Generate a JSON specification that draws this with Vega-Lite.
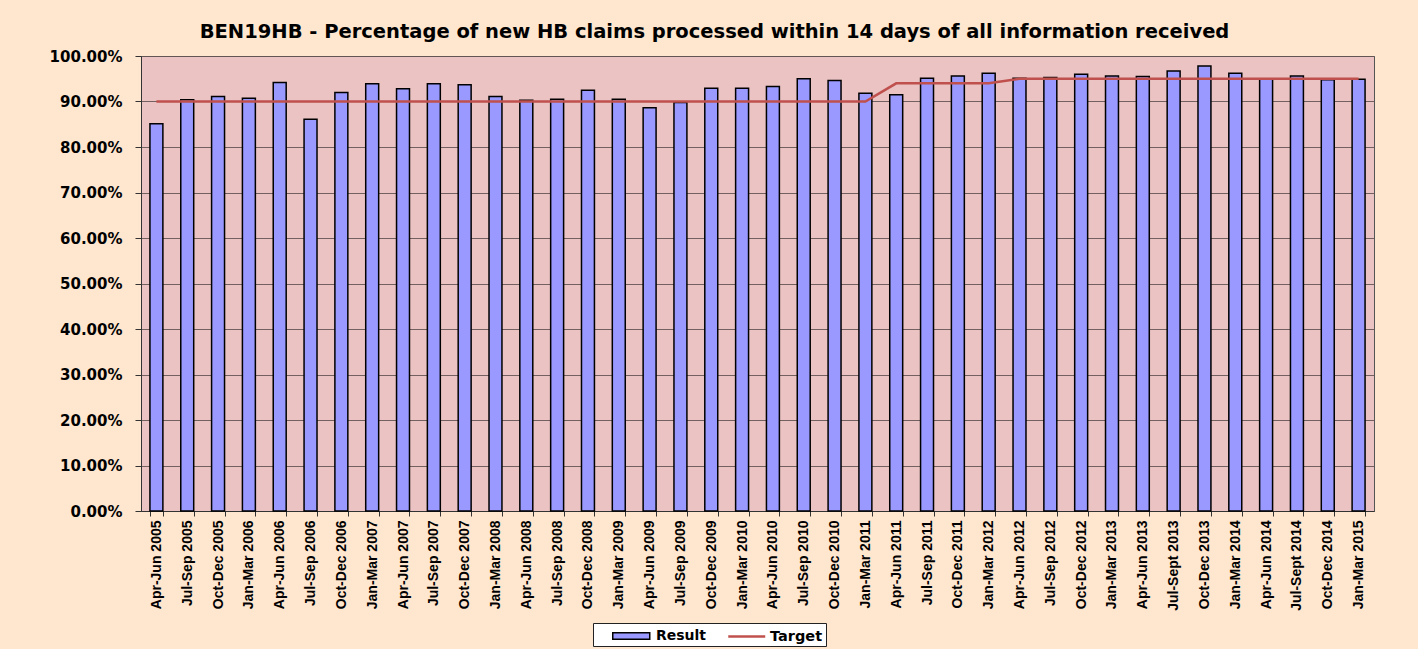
{
  "$schema": "https://vega.github.io/schema/vega-lite/v6.json",
  "width": 1233,
  "height": 455,
  "autosize": {"type": "none"},
  "padding": {"left": 141, "top": 56, "right": 44, "bottom": 138},
  "background": "#fee6cf",
  "title": {
    "text": "BEN19HB - Percentage of new HB claims processed within 14 days of all information received",
    "font": "DejaVu Sans",
    "fontWeight": "bold",
    "fontSize": 19.5,
    "color": "black",
    "anchor": "middle",
    "offset": 7,
    "dx": -43
  },
  "config": {
    "view": {"fill": "#eac3c2", "stroke": "#555555", "strokeWidth": 1}
  },
  "data": {
    "values": [
      {"quarter": "Apr-Jun 2005", "result": 0.851, "target": 0.90},
      {"quarter": "Jul-Sep 2005", "result": 0.904, "target": 0.90},
      {"quarter": "Oct-Dec 2005", "result": 0.911, "target": 0.90},
      {"quarter": "Jan-Mar 2006", "result": 0.907, "target": 0.90},
      {"quarter": "Apr-Jun 2006", "result": 0.942, "target": 0.90},
      {"quarter": "Jul-Sep 2006", "result": 0.861, "target": 0.90},
      {"quarter": "Oct-Dec 2006", "result": 0.920, "target": 0.90},
      {"quarter": "Jan-Mar 2007", "result": 0.939, "target": 0.90},
      {"quarter": "Apr-Jun 2007", "result": 0.928, "target": 0.90},
      {"quarter": "Jul-Sep 2007", "result": 0.939, "target": 0.90},
      {"quarter": "Oct-Dec 2007", "result": 0.937, "target": 0.90},
      {"quarter": "Jan-Mar 2008", "result": 0.911, "target": 0.90},
      {"quarter": "Apr-Jun 2008", "result": 0.903, "target": 0.90},
      {"quarter": "Jul-Sep 2008", "result": 0.905, "target": 0.90},
      {"quarter": "Oct-Dec 2008", "result": 0.925, "target": 0.90},
      {"quarter": "Jan-Mar 2009", "result": 0.905, "target": 0.90},
      {"quarter": "Apr-Jun 2009", "result": 0.886, "target": 0.90},
      {"quarter": "Jul-Sep 2009", "result": 0.898, "target": 0.90},
      {"quarter": "Oct-Dec 2009", "result": 0.929, "target": 0.90},
      {"quarter": "Jan-Mar 2010", "result": 0.929, "target": 0.90},
      {"quarter": "Apr-Jun 2010", "result": 0.933, "target": 0.90},
      {"quarter": "Jul-Sep 2010", "result": 0.950, "target": 0.90},
      {"quarter": "Oct-Dec 2010", "result": 0.946, "target": 0.90},
      {"quarter": "Jan-Mar 2011", "result": 0.918, "target": 0.90},
      {"quarter": "Apr-Jun 2011", "result": 0.915, "target": 0.94},
      {"quarter": "Jul-Sep 2011", "result": 0.951, "target": 0.94},
      {"quarter": "Oct-Dec 2011", "result": 0.956, "target": 0.94},
      {"quarter": "Jan-Mar 2012", "result": 0.962, "target": 0.94},
      {"quarter": "Apr-Jun 2012", "result": 0.951, "target": 0.95},
      {"quarter": "Jul-Sep 2012", "result": 0.953, "target": 0.95},
      {"quarter": "Oct-Dec 2012", "result": 0.960, "target": 0.95},
      {"quarter": "Jan-Mar 2013", "result": 0.956, "target": 0.95},
      {"quarter": "Apr-Jun 2013", "result": 0.955, "target": 0.95},
      {"quarter": "Jul-Sept 2013", "result": 0.967, "target": 0.95},
      {"quarter": "Oct-Dec 2013", "result": 0.978, "target": 0.95},
      {"quarter": "Jan-Mar 2014", "result": 0.962, "target": 0.95},
      {"quarter": "Apr-Jun 2014", "result": 0.949, "target": 0.95},
      {"quarter": "Jul-Sept 2014", "result": 0.956, "target": 0.95},
      {"quarter": "Oct-Dec 2014", "result": 0.948, "target": 0.95},
      {"quarter": "Jan-Mar 2015", "result": 0.949, "target": 0.95}
    ]
  },
  "encoding": {
    "x": {
      "field": "quarter",
      "type": "nominal",
      "sort": null,
      "scale": {"paddingInner": 0.58, "paddingOuter": 0.29},
      "axis": {
        "title": null,
        "labelAngle": -90,
        "labelOverlap": false,
        "tickBand": "extent",
        "tickSize": 5,
        "tickColor": "#333333",
        "domainColor": "#333333",
        "labelPadding": 4,
        "labelFont": "Liberation Sans",
        "labelFontWeight": "bold",
        "labelFontSize": 14,
        "labelColor": "black"
      }
    }
  },
  "layer": [
    {
      "mark": {"type": "bar", "stroke": "black", "strokeWidth": 1.5},
      "encoding": {
        "y": {
          "field": "result",
          "type": "quantitative",
          "scale": {"domain": [0, 1], "nice": false},
          "axis": {
            "title": null,
            "format": ".2%",
            "values": [0, 0.1, 0.2, 0.3, 0.4, 0.5, 0.6, 0.7, 0.8, 0.9, 1.0],
            "grid": true,
            "gridColor": "#665555",
            "gridWidth": 1,
            "gridOpacity": 0.9,
            "domainColor": "#333333",
            "tickColor": "#333333",
            "tickSize": 6,
            "labelPadding": 13,
            "labelFont": "DejaVu Sans",
            "labelFontWeight": "bold",
            "labelFontSize": 15,
            "labelColor": "black"
          }
        },
        "fill": {
          "datum": "Result",
          "scale": {"range": ["#9999ff"]},
          "legend": {
            "title": null,
            "orient": "none",
            "legendX": 452,
            "legendY": 567,
            "zindex": 2,
            "direction": "horizontal",
            "padding": 3,
            "symbolOffset": 16,
            "symbolType": "M-1,-0.34H3V0.34H-1Z",
            "symbolSize": 342,
            "symbolStrokeColor": "#000000",
            "symbolStrokeWidth": 1.5,
            "symbolOpacity": 1,
            "labelOffset": 24,
            "labelFont": "DejaVu Sans",
            "labelFontWeight": "bold",
            "labelFontSize": 14,
            "labelColor": "black"
          }
        }
      }
    },
    {
      "mark": {"type": "line", "strokeWidth": 2.5},
      "encoding": {
        "y": {"field": "target", "type": "quantitative"},
        "stroke": {
          "datum": "Target",
          "scale": {"range": ["#c0504d"]},
          "legend": {
            "title": null,
            "orient": "none",
            "legendX": 452,
            "legendY": 567,
            "zindex": 1,
            "direction": "horizontal",
            "strokeColor": "#222222",
            "fillColor": "#ffffff",
            "padding": 3,
            "symbolOffset": 131,
            "symbolType": "M-1,0H3",
            "symbolSize": 342,
            "symbolStrokeWidth": 2.5,
            "symbolOpacity": 1,
            "labelOffset": 22,
            "labelFont": "DejaVu Sans",
            "labelFontWeight": "bold",
            "labelFontSize": 14.5,
            "labelColor": "black"
          }
        }
      }
    }
  ]
}
